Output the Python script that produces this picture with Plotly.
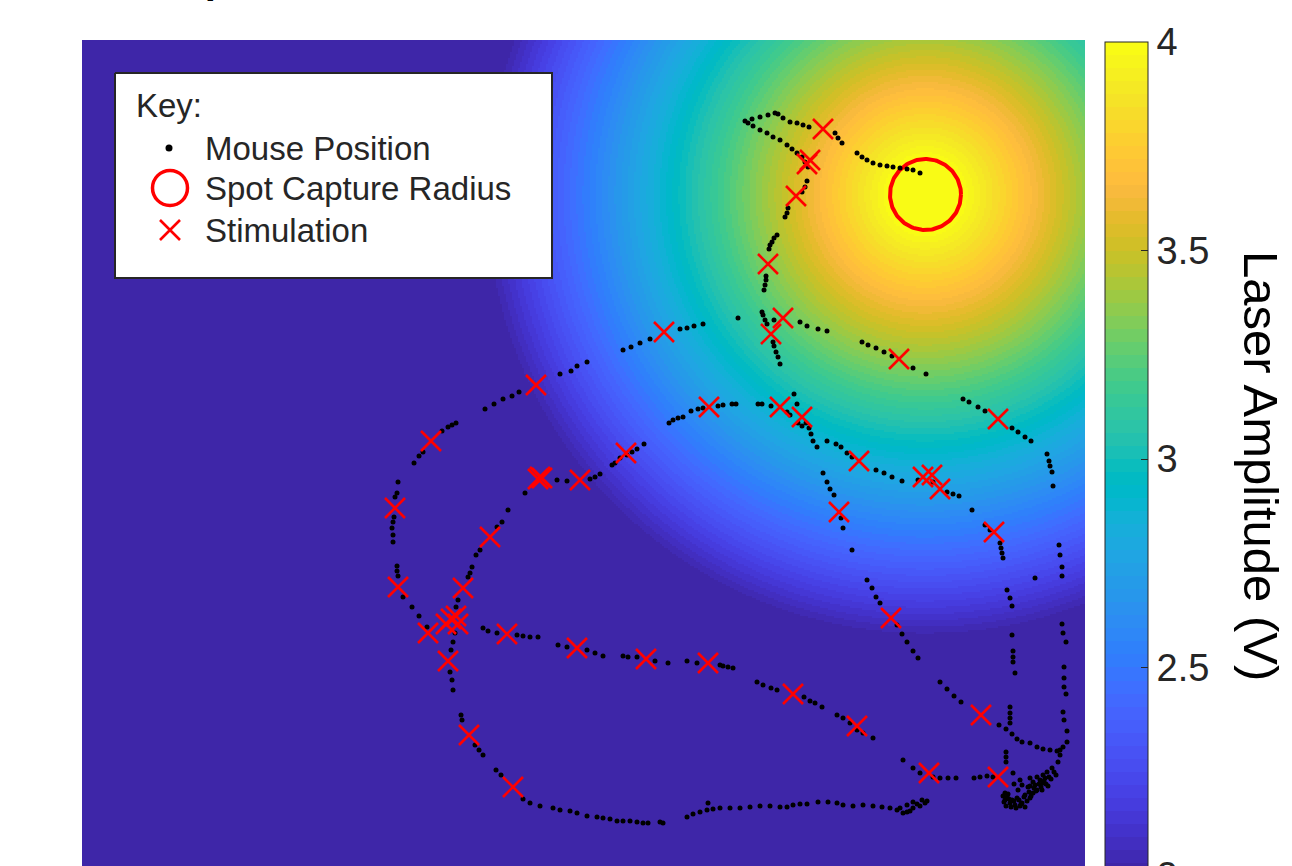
import numpy as np
import plotly.graph_objects as go

# ---------------------------------------------------------------
# Tracked mouse positions (camera pixel coordinates, y grows down)
# ---------------------------------------------------------------
mouse_x = [
    745, 752, 760, 768, 775, 778, 783, 790, 797, 803, 809,
    835, 838, 842, 857, 862, 867, 873, 880, 887, 893, 900, 907, 913, 920,
    748, 753, 760, 767, 773, 780, 787, 792, 797, 802, 805, 808,
    807, 805, 802, 788, 787, 785, 777, 774, 772, 770, 769,
    766, 766, 765, 764, 762, 763, 765, 767, 774,
    773, 774, 776, 778, 780,
    800, 807, 818, 827, 862, 868, 876, 884, 892, 913, 926, 963, 969, 978, 985,
    1012, 1018, 1025, 1031, 1047, 1049, 1050, 1052, 1053, 1059, 1060, 1062, 1062,
    1062, 1063, 1066, 1064, 1064, 1064, 1066, 1063, 1064, 1067, 1067, 1063,
    738, 703, 694, 687, 680, 650, 640, 631, 623, 587, 577, 571, 560,
    519, 512, 503, 494, 485, 456, 452, 448, 442, 423, 419, 414,
    398, 397, 395, 394, 393, 392, 393, 393, 397, 397, 398, 403, 412, 419, 427,
    483, 488, 497, 517, 523, 530, 538, 558, 567, 587, 595, 603, 623, 628, 637,
    655, 668, 687, 697, 720, 723, 728, 733, 757, 763, 771, 777, 804, 810, 815,
    822, 837, 843, 850, 857, 863, 873,
    669, 673, 678, 683, 691, 698, 703, 718, 723, 732, 736, 758, 762, 771, 787,
    790, 794, 797, 798, 802, 806, 809, 811, 813, 817, 827, 836, 841, 847, 852,
    876, 884, 892, 902, 918, 933, 947, 953, 959, 972, 985, 990, 1000, 1001, 1002,
    1003, 1035, 1007, 1010, 1012, 1012, 1013, 1013, 1013, 1015, 1010, 1010, 1010, 1010,
    644, 637, 632, 627, 620, 615, 612, 600, 595, 590, 567, 557, 525, 508, 502,
    497, 480, 476, 472, 470, 468, 458, 456, 455, 453, 451, 450, 452, 453, 461,
    462, 475, 479, 483, 496, 501, 523, 530, 540,
    553, 560, 570, 577, 587, 597, 603, 610, 617, 623, 630, 637, 643, 648, 660,
    663, 687, 693, 700, 707, 708, 713, 720, 730, 740, 750, 760, 770, 780, 787,
    793, 800, 807, 818, 828, 837, 843, 853, 863, 873, 882, 890, 897, 903, 907,
    913, 920, 927, 922, 913, 907, 900, 910, 917, 925,
    823, 827, 830, 834, 841, 843, 852, 867, 872, 876, 880, 897, 902, 907, 913,
    918, 940, 947, 954, 961, 999, 1006, 1012, 1017, 1022, 1030, 1037, 1043, 1050,
    1057, 1060,
    903, 913, 920, 933, 940, 948, 956, 974, 980, 987, 993, 1006, 1006, 1006,
    1013, 1020, 1030, 1037, 1043, 1047, 1052, 1058, 1060, 1007, 1012, 1017, 1022,
    1025, 1030, 1033, 1037, 1042, 1043, 1040, 1033, 1028, 1005, 1010, 1015, 1020,
    1008, 1025, 1005, 1018, 1035, 1045, 1048,
    1003, 1004, 1006, 1009, 1011, 1014, 1016, 1019, 1021, 1024, 1027, 1029, 1031,
    1034, 1036, 1039, 1041, 1044, 1046, 1049, 1051, 1054, 1056, 1014, 1022, 1030,
]
mouse_y = [
    121, 119, 117, 115, 113, 114, 118, 122, 123, 125, 127,
    133, 138, 143, 153, 157, 160, 163, 165, 166, 167, 168, 169, 170, 173,
    123, 126, 130, 133, 137, 140, 145, 149, 153, 157, 162, 167,
    181, 187, 192, 208, 213, 217, 235, 238, 242, 245, 249,
    276, 280, 285, 290, 312, 315, 320, 324, 320,
    342, 346, 352, 357, 364,
    322, 326, 329, 331, 342, 345, 348, 352, 356, 368, 374, 399, 402, 407, 411,
    428, 432, 437, 441, 454, 461, 466, 472, 486, 545, 555, 567, 576,
    624, 633, 642, 667, 678, 687, 694, 712, 720, 731, 742, 747,
    318, 324, 326, 328, 329, 339, 343, 347, 350, 362, 366, 371, 374,
    392, 396, 399, 404, 409, 423, 425, 427, 431, 452, 456, 463,
    482, 493, 497, 517, 522, 528, 535, 542, 566, 571, 576, 597, 607, 616, 627,
    628, 631, 633, 635, 636, 637, 637, 645, 647, 650, 653, 656, 656, 657, 657,
    661, 663, 661, 663, 665, 666, 667, 668, 682, 685, 688, 690, 697, 701, 703,
    707, 715, 718, 723, 730, 733, 738,
    423, 420, 418, 417, 411, 409, 408, 406, 405, 404, 404, 404, 404, 406, 412,
    415, 394, 404, 423, 426, 423, 428, 434, 441, 447, 441, 444, 447, 453, 457,
    470, 473, 477, 481, 480, 482, 492, 494, 496, 510, 525, 530, 543, 548, 553,
    558, 578, 590, 598, 606, 635, 651, 657, 662, 673, 707, 713, 718, 723,
    444, 449, 452, 455, 458, 463, 465, 474, 477, 479, 481, 480, 493, 510, 522,
    527, 550, 555, 567, 573, 577, 600, 607, 633, 642, 650, 672, 680, 690, 715,
    720, 745, 750, 755, 770, 775, 799, 803, 806,
    808, 810, 811, 813, 816, 817, 818, 819, 821, 821, 821, 822, 823, 823, 822,
    823, 817, 814, 812, 810, 803, 809, 808, 808, 808, 807, 806, 806, 807, 807,
    805, 804, 804, 802, 802, 803, 805, 806, 805, 806, 807, 808, 810, 813, 812,
    808, 806, 801, 800, 802, 805, 808, 811, 804, 803,
    473, 482, 489, 495, 518, 528, 550, 580, 588, 597, 603, 625, 634, 642, 651,
    658, 682, 689, 696, 702, 725, 729, 734, 739, 742, 743, 747, 749, 750,
    751, 750,
    760, 768, 773, 777, 778, 778, 778, 778, 777, 776, 777, 752, 757, 762,
    773, 780, 778, 777, 775, 772, 768, 762, 755, 797, 800, 798, 803,
    807, 798, 793, 790, 790, 783, 780, 782, 787, 800, 803, 805, 806,
    794, 795, 793, 790, 785, 778, 786,
    796, 802, 806, 799, 807, 801, 808, 800, 804, 797, 801, 792, 796,
    788, 791, 784, 787, 781, 784, 777, 779, 772, 775, 784, 785, 786,
]

# Positions at which a stimulation pulse was delivered
stim_x = [
    823, 807, 810, 796, 768, 783, 771, 664, 899, 536, 709, 780, 802, 431, 626,
    998, 859, 538, 540, 542, 580, 923, 932, 940, 395, 839, 994, 490, 398, 463,
    891, 446, 451, 456, 458, 428, 507, 577, 646, 708, 448, 793, 857, 981, 469,
    929, 998, 513,
]
stim_y = [
    129, 164, 160, 196, 264, 318, 334, 332, 359, 385, 407, 407, 417, 441, 453,
    419, 461, 479, 477, 478, 480, 477, 475, 489, 508, 512, 532, 537, 587, 588,
    618, 624, 619, 616, 624, 633, 634, 648, 659, 663, 661, 694, 726, 715, 735,
    773, 777, 787,
]

# Laser spot and amplitude profile
spot_x, spot_y = 925.5, 194.5
capture_radius = 35.5
falloff_radius = 445.0
amp_min, amp_max = 2.0, 4.0

# Camera region of interest (pixels)
roi_x = (82, 1085)
roi_y = (40, 876)

cbar_ticks = [2, 2.5, 3, 3.5, 4]
cbar_ticktext = ["2", "2.5", "3", "3.5", "4"]

# MATLAB parula colormap, 64 entries
parula = [
    (0.2422, 0.1504, 0.6603), (0.2504, 0.1650, 0.7076), (0.2578, 0.1818, 0.7511),
    (0.2647, 0.1978, 0.7952), (0.2706, 0.2147, 0.8364), (0.2751, 0.2342, 0.8710),
    (0.2783, 0.2559, 0.8991), (0.2803, 0.2782, 0.9221), (0.2813, 0.3006, 0.9414),
    (0.2810, 0.3228, 0.9579), (0.2795, 0.3447, 0.9717), (0.2760, 0.3667, 0.9829),
    (0.2699, 0.3892, 0.9906), (0.2602, 0.4123, 0.9952), (0.2440, 0.4358, 0.9988),
    (0.2206, 0.4603, 0.9973), (0.1963, 0.4847, 0.9892), (0.1834, 0.5074, 0.9798),
    (0.1786, 0.5289, 0.9682), (0.1764, 0.5499, 0.9520), (0.1687, 0.5703, 0.9359),
    (0.1540, 0.5902, 0.9218), (0.1460, 0.6091, 0.9079), (0.1380, 0.6276, 0.8973),
    (0.1248, 0.6459, 0.8883), (0.1113, 0.6635, 0.8763), (0.0952, 0.6798, 0.8598),
    (0.0689, 0.6948, 0.8394), (0.0297, 0.7082, 0.8163), (0.0036, 0.7203, 0.7917),
    (0.0067, 0.7312, 0.7660), (0.0433, 0.7411, 0.7394), (0.0964, 0.7500, 0.7120),
    (0.1408, 0.7584, 0.6842), (0.1717, 0.7670, 0.6554), (0.1938, 0.7758, 0.6251),
    (0.2161, 0.7843, 0.5923), (0.2470, 0.7918, 0.5567), (0.2906, 0.7973, 0.5188),
    (0.3406, 0.8008, 0.4789), (0.3909, 0.8029, 0.4354), (0.4456, 0.8024, 0.3909),
    (0.5044, 0.7993, 0.3480), (0.5616, 0.7942, 0.3045), (0.6174, 0.7876, 0.2612),
    (0.6720, 0.7793, 0.2227), (0.7242, 0.7698, 0.1910), (0.7738, 0.7598, 0.1646),
    (0.8203, 0.7498, 0.1535), (0.8634, 0.7406, 0.1596), (0.9035, 0.7330, 0.1774),
    (0.9393, 0.7288, 0.2100), (0.9728, 0.7298, 0.2394), (0.9956, 0.7434, 0.2371),
    (0.9970, 0.7659, 0.2199), (0.9952, 0.7893, 0.2028), (0.9892, 0.8136, 0.1885),
    (0.9786, 0.8386, 0.1766), (0.9676, 0.8639, 0.1643), (0.9610, 0.8890, 0.1537),
    (0.9597, 0.9135, 0.1423), (0.9628, 0.9373, 0.1265), (0.9691, 0.9606, 0.1064),
    (0.9769, 0.9839, 0.0805),
]


def rgb(c):
    return "rgb({},{},{})".format(*(int(round(v * 255)) for v in c))


n = len(parula)
colorscale = []
for i, c in enumerate(parula):
    colorscale.append([i / n, rgb(c)])
    colorscale.append([(i + 1) / n, rgb(c)])

# Amplitude map: full power inside the capture radius, linear fall-off
gx = np.arange(roi_x[0] + 1, roi_x[1] + 1, 2.0)
gy = np.arange(roi_y[0] + 1, roi_y[1] + 1, 2.0)
GX, GY = np.meshgrid(gx, gy)
dist = np.hypot(GX - spot_x, GY - spot_y)
amp = amp_max - (amp_max - amp_min) * (dist - capture_radius) / (falloff_radius - capture_radius)
amp = np.clip(amp, amp_min, amp_max).astype(np.float32)

FONT = "Arial, 'Liberation Sans', Helvetica, sans-serif"
INK = "#262626"
RED = "#ff0000"

# pixel helpers for the layout (plot area spans x 82..1085, y 40..866)
PL, PR, PT, PB = 82, 1085, 40, 866


def px_to_paper_x(p):
    return (p - PL) / (PR - PL)


def px_to_paper_y(p):
    return (PB - p) / (PB - PT)


fig = go.Figure()

fig.add_trace(go.Heatmap(
    x=gx, y=gy, z=amp,
    zmin=amp_min, zmax=amp_max,
    colorscale=colorscale,
    hoverinfo="skip",
    colorbar=dict(
        x=px_to_paper_x(1105), xanchor="left", xpad=0,
        y=px_to_paper_y(876), yanchor="bottom", ypad=0,
        len=(876 - 42) / (PB - PT), lenmode="fraction",
        thickness=43, thicknessmode="pixels",
        outlinewidth=1, outlinecolor=INK,
        tickvals=cbar_ticks, ticktext=cbar_ticktext,
        ticks="inside", ticklen=7, tickwidth=1, tickcolor=INK,
        ticklabeloverflow="allow",
        tickfont=dict(family=FONT, size=38, color=INK),
    ),
))

# capture radius ring
theta = np.linspace(0, 2 * np.pi, 181)
fig.add_trace(go.Scatter(
    x=spot_x + capture_radius * np.cos(theta),
    y=spot_y + capture_radius * np.sin(theta),
    mode="lines", line=dict(color=RED, width=4),
    hoverinfo="skip", showlegend=False,
))

fig.add_trace(go.Scatter(
    x=mouse_x, y=mouse_y, mode="markers",
    marker=dict(color="black", size=5),
    name="Mouse Position", showlegend=False,
))

fig.add_trace(go.Scatter(
    x=stim_x, y=stim_y, mode="markers",
    marker=dict(symbol="x-thin", size=20, color=RED, line=dict(color=RED, width=2.6)),
    name="Stimulation", showlegend=False,
))

# ---- key box (drawn in its own small axes) ----
key_l, key_r, key_t, key_b = 115, 552, 73, 278
fig.add_trace(go.Scatter(
    x=[key_l, key_r, key_r, key_l, key_l], y=[key_t, key_t, key_b, key_b, key_t],
    mode="lines", fill="toself", fillcolor="white",
    line=dict(color=INK, width=2),
    xaxis="x2", yaxis="y2", hoverinfo="skip", showlegend=False,
))
key_rows = [148, 188, 230]
key_labels = ["Mouse Position", "Spot Capture Radius", "Stimulation"]
fig.add_trace(go.Scatter(
    x=[169], y=[key_rows[0]], mode="markers",
    marker=dict(color="black", size=7),
    xaxis="x2", yaxis="y2", hoverinfo="skip", showlegend=False,
))
fig.add_trace(go.Scatter(
    x=[170], y=[key_rows[1]], mode="markers",
    marker=dict(symbol="circle-open", size=35, color=RED, line=dict(color=RED, width=3.5)),
    xaxis="x2", yaxis="y2", hoverinfo="skip", showlegend=False,
))
fig.add_trace(go.Scatter(
    x=[170], y=[key_rows[2]], mode="markers",
    marker=dict(symbol="x-thin", size=20, color=RED, line=dict(color=RED, width=2.6)),
    xaxis="x2", yaxis="y2", hoverinfo="skip", showlegend=False,
))

annotations = [dict(
    x=134, y=105, xref="x2", yref="y2", text="Key:", showarrow=False,
    xanchor="left", yanchor="middle", font=dict(family=FONT, size=33, color=INK),
)]
for row, label in zip(key_rows, key_labels):
    annotations.append(dict(
        x=203, y=row, xref="x2", yref="y2", text=label, showarrow=False,
        xanchor="left", yanchor="middle", font=dict(family=FONT, size=33, color=INK),
    ))

# colorbar label
annotations.append(dict(
    x=px_to_paper_x(1261), y=px_to_paper_y(466), xref="paper", yref="paper",
    text="Laser Amplitude (V)", textangle=90, showarrow=False,
    xanchor="center", yanchor="middle", font=dict(family=FONT, size=49, color="black"),
))
# figure title (sits above the visible page)
annotations.append(dict(
    x=px_to_paper_x(96), y=px_to_paper_y(3), xref="paper", yref="paper",
    text="<b>Example Trial</b>", showarrow=False,
    xanchor="left", yanchor="bottom", font=dict(family=FONT, size=40, color="black"),
))

pad = 4
fig.update_layout(
    width=1292, height=866,
    margin=dict(l=PL, r=1292 - PR, t=PT, b=866 - PB, pad=0, autoexpand=False),
    paper_bgcolor="white", plot_bgcolor="rgba(0,0,0,0)",
    showlegend=False,
    font=dict(family=FONT, color=INK),
    xaxis=dict(range=list(roi_x), visible=False, domain=[0, 1]),
    yaxis=dict(range=[PB, PT], visible=False, domain=[0, 1]),
    xaxis2=dict(range=[key_l - pad, key_r + pad], visible=False, anchor="y2",
                domain=[px_to_paper_x(key_l - pad), px_to_paper_x(key_r + pad)]),
    yaxis2=dict(range=[key_b + pad, key_t - pad], visible=False, anchor="x2",
                domain=[px_to_paper_y(key_b + pad), px_to_paper_y(key_t - pad)]),
    annotations=annotations,
)

fig.write_html("out.html")
